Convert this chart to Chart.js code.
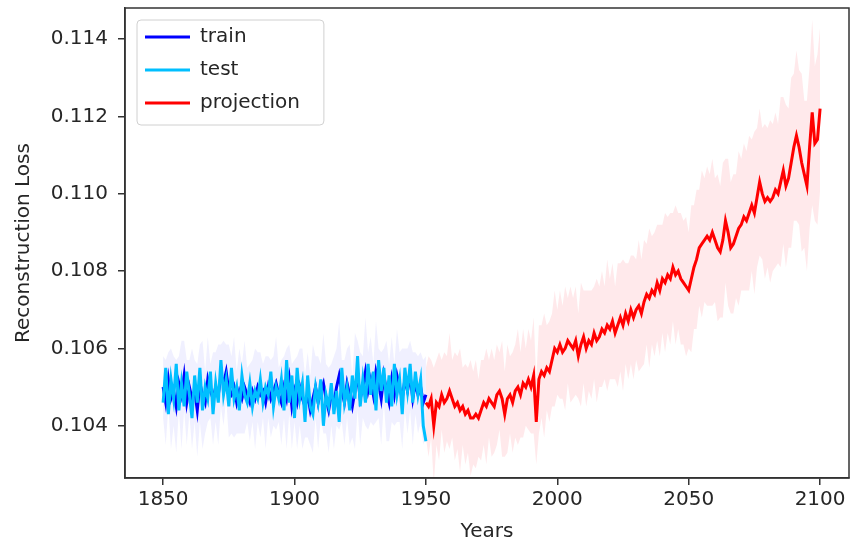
<!DOCTYPE html>
<html>
<head>
<meta charset="utf-8">
<script src="https://cdn.jsdelivr.net/npm/chart.js@4.4.1/dist/chart.umd.min.js"></script>
<style>
  html, body { margin: 0; padding: 0; background: #fff; }
  #chart { display: block; }
</style>
</head>
<body>
<canvas id="chart" width="852" height="544"></canvas>
<script>
// years of the first value in each series
const histStart = 1850
const projStart = 1950

const trainLoss = [
	0.1050, 0.1046, 0.1052, 0.1047, 0.1049, 0.1045, 0.1051, 0.1048, 0.1053, 0.1046,
	0.1050, 0.1047, 0.1049, 0.1044, 0.1051, 0.1048, 0.1046, 0.1052, 0.1049, 0.1047,
	0.1050, 0.1048, 0.1053, 0.1051, 0.1054, 0.1049, 0.1048, 0.1050, 0.1046, 0.1049,
	0.1047, 0.1050, 0.1048, 0.1046, 0.1049, 0.1047, 0.1050, 0.1048, 0.1049, 0.1046,
	0.1050, 0.1047, 0.1049, 0.1051, 0.1048, 0.1046, 0.1050, 0.1047, 0.1052, 0.1045,
	0.1049, 0.1046, 0.1050, 0.1047, 0.1045, 0.1048, 0.1044, 0.1047, 0.1050, 0.1046,
	0.1049, 0.1051, 0.1047, 0.1044, 0.1048, 0.1046, 0.1050, 0.1053, 0.1049, 0.1046,
	0.1051, 0.1048, 0.1045, 0.1049, 0.1053, 0.1047, 0.1050, 0.1054, 0.1049, 0.1052,
	0.1048, 0.1054, 0.1051, 0.1047, 0.1053, 0.1049, 0.1046, 0.1052, 0.1048, 0.1053,
	0.1050, 0.1047, 0.1052, 0.1049, 0.1053, 0.1047, 0.1051, 0.1048, 0.1050, 0.1046,
	0.1048
]

const testLoss = [
	0.1046, 0.1055, 0.1043, 0.1052, 0.1047, 0.1056, 0.1044, 0.1051, 0.1045, 0.1054,
	0.1048, 0.1042, 0.1053, 0.1046, 0.1055, 0.1044, 0.1050, 0.1047, 0.1054, 0.1043,
	0.1051, 0.1046, 0.1057, 0.1048, 0.1052, 0.1045, 0.1055, 0.1047, 0.1050, 0.1044,
	0.1053, 0.1048, 0.1046, 0.1051, 0.1045, 0.1049, 0.1047, 0.1052, 0.1046, 0.1050,
	0.1048, 0.1054, 0.1045, 0.1050, 0.1047, 0.1052, 0.1044, 0.1057, 0.1046, 0.1053,
	0.1042, 0.1055, 0.1047, 0.1051, 0.1041, 0.1053, 0.1045, 0.1043, 0.1050, 0.1046,
	0.1052, 0.1040, 0.1048, 0.1045, 0.1051, 0.1043, 0.1049, 0.1041, 0.1055, 0.1046,
	0.1050, 0.1044, 0.1053, 0.1047, 0.1058, 0.1045, 0.1052, 0.1046, 0.1056, 0.1048,
	0.1054, 0.1044, 0.1057, 0.1049, 0.1055, 0.1046, 0.1053, 0.1045, 0.1056, 0.1048,
	0.1052, 0.1043, 0.1055, 0.1049, 0.1056, 0.1046, 0.1054, 0.1048, 0.1052, 0.1040,
	0.1036
]

const projLoss = [
	0.1046, 0.1045, 0.1047, 0.1040, 0.1046, 0.1045, 0.1048, 0.1046, 0.1047, 0.1049,
	0.1047, 0.1045, 0.1046, 0.1044, 0.1045, 0.1043, 0.1044, 0.1042, 0.1042, 0.1043,
	0.1042, 0.1044, 0.1046, 0.1045, 0.1047, 0.1046, 0.1045, 0.1048, 0.1049, 0.1047,
	0.1043, 0.1047, 0.1048, 0.1046, 0.1049, 0.1050, 0.1048, 0.1051, 0.1050, 0.1052,
	0.1050, 0.1053, 0.1041, 0.1052, 0.1054, 0.1053, 0.1055, 0.1054, 0.1057, 0.1060,
	0.1059, 0.1061, 0.1059, 0.1060, 0.1062, 0.1061, 0.1060, 0.1062, 0.1058, 0.1061,
	0.1063, 0.1060, 0.1062, 0.1061, 0.1064, 0.1062, 0.1063, 0.1065, 0.1064, 0.1066,
	0.1065, 0.1067, 0.1064, 0.1066, 0.1068, 0.1066, 0.1069, 0.1067, 0.1070, 0.1068,
	0.1070, 0.1071, 0.1069, 0.1072, 0.1074, 0.1073, 0.1075, 0.1074, 0.1077, 0.1075,
	0.1078, 0.1077, 0.1079, 0.1078, 0.1081, 0.1079, 0.1080, 0.1078, 0.1077, 0.1076,
	0.1075, 0.1078, 0.1081, 0.1083, 0.1086, 0.1087, 0.1088, 0.1089, 0.1088, 0.1090,
	0.1088, 0.1086, 0.1085, 0.1088, 0.1093, 0.1090, 0.1086, 0.1087, 0.1089, 0.1091,
	0.1092, 0.1094, 0.1093, 0.1095, 0.1097, 0.1095, 0.1099, 0.1103, 0.1100, 0.1098,
	0.1099, 0.1098, 0.1099, 0.1101, 0.1100, 0.1103, 0.1106, 0.1102, 0.1104, 0.1108,
	0.1112, 0.1115, 0.1112, 0.1108, 0.1105, 0.1102, 0.1112, 0.1121, 0.1113, 0.1114,
	0.1122
]

// half width of the shaded bands
const histSpread = [
	0.0008, 0.0011, 0.0007, 0.0013, 0.0009, 0.0012, 0.0007, 0.0014, 0.0009, 0.0011,
	0.0007, 0.0013, 0.0008, 0.0012, 0.0010, 0.0014, 0.0008, 0.0011, 0.0007, 0.0012,
	0.0009, 0.0013, 0.0008, 0.0011, 0.0007, 0.0012, 0.0010, 0.0013, 0.0008, 0.0011,
	0.0009, 0.0012, 0.0007, 0.0010, 0.0008, 0.0013, 0.0009, 0.0011, 0.0007, 0.0012,
	0.0008, 0.0010, 0.0009, 0.0012, 0.0007, 0.0011, 0.0008, 0.0013, 0.0009, 0.0011,
	0.0008, 0.0012, 0.0010, 0.0013, 0.0008, 0.0011, 0.0009, 0.0014, 0.0008, 0.0012,
	0.0007, 0.0013, 0.0009, 0.0011, 0.0008, 0.0012, 0.0010, 0.0014, 0.0008, 0.0011,
	0.0009, 0.0013, 0.0008, 0.0015, 0.0009, 0.0012, 0.0008, 0.0014, 0.0010, 0.0011,
	0.0008, 0.0013, 0.0009, 0.0012, 0.0007, 0.0013, 0.0010, 0.0011, 0.0008, 0.0012,
	0.0009, 0.0013, 0.0008, 0.0011, 0.0009, 0.0012, 0.0008, 0.0010, 0.0009, 0.0011,
	0.0010
]

const projSpread = [
	0.0009, 0.0013, 0.0010, 0.0015, 0.0011, 0.0014, 0.0009, 0.0013, 0.0011, 0.0015,
	0.0010, 0.0014, 0.0012, 0.0016, 0.0010, 0.0013, 0.0011, 0.0015, 0.0012, 0.0014,
	0.0010, 0.0013, 0.0011, 0.0015, 0.0010, 0.0014, 0.0012, 0.0013, 0.0010, 0.0015,
	0.0011, 0.0014, 0.0010, 0.0013, 0.0012, 0.0015, 0.0011, 0.0014, 0.0010, 0.0013,
	0.0012, 0.0015, 0.0011, 0.0014, 0.0012, 0.0016, 0.0011, 0.0013, 0.0012, 0.0015,
	0.0011, 0.0014, 0.0012, 0.0016, 0.0011, 0.0015, 0.0013, 0.0014, 0.0011, 0.0016,
	0.0012, 0.0015, 0.0013, 0.0014, 0.0012, 0.0016, 0.0013, 0.0015, 0.0012, 0.0017,
	0.0013, 0.0015, 0.0012, 0.0016, 0.0014, 0.0017, 0.0013, 0.0015, 0.0014, 0.0016,
	0.0013, 0.0017, 0.0014, 0.0016, 0.0013, 0.0018, 0.0014, 0.0016, 0.0015, 0.0017,
	0.0014, 0.0018, 0.0015, 0.0017, 0.0014, 0.0018, 0.0015, 0.0017, 0.0016, 0.0018,
	0.0015, 0.0019, 0.0016, 0.0018, 0.0015, 0.0019, 0.0016, 0.0018, 0.0017, 0.0019,
	0.0016, 0.0019, 0.0017, 0.0020, 0.0016, 0.0019, 0.0017, 0.0018, 0.0016, 0.0020,
	0.0017, 0.0019, 0.0018, 0.0020, 0.0017, 0.0021, 0.0018, 0.0019, 0.0017, 0.0020,
	0.0018, 0.0021, 0.0019, 0.0020, 0.0018, 0.0022, 0.0019, 0.0021, 0.0018, 0.0022,
	0.0019, 0.0022, 0.0020, 0.0023, 0.0019, 0.0022, 0.0021, 0.0024, 0.0020, 0.0022,
	0.0021
]

const xTicks = [1850, 1900, 1950, 2000, 2050, 2100]
const yTicks = [0.104, 0.106, 0.108, 0.110, 0.112, 0.114]

const textColor = '#262626'
const axisColor = '#333333'

function toPoints(start, values) {
	return values.map((v, i) => ({ x: start + i, y: v }))
}

function bandEdge(start, values, spread, sign) {
	return values.map((v, i) => ({ x: start + i, y: v + sign * spread[i] }))
}

function lineSet(label, data, color, order) {
	return {
		label: label,
		data: data,
		borderColor: color,
		backgroundColor: color,
		borderWidth: 3,
		pointRadius: 0,
		tension: 0,
		fill: false,
		order: order,
	}
}

function bandSet(data, fill, color) {
	return {
		label: '',
		data: data,
		borderColor: 'transparent',
		backgroundColor: color,
		borderWidth: 0,
		pointRadius: 0,
		tension: 0,
		fill: fill,
		order: 10,
	}
}

// outer frame (top and right sides) + legend frame
const framePlugin = {
	id: 'frame',
	afterLayout(chart) {
		const lg = chart.legend
		lg.left = chart.chartArea.left + 7
		lg.top = chart.chartArea.top + 6
	},
	beforeDraw(chart) {
		const lg = chart.legend
		const ctx = chart.ctx
		const pad = lg.options.labels.padding
		ctx.save()
		ctx.font = '20px "DejaVu Sans"'
		let maxW = 0
		chart.data.datasets.slice(0, 3).forEach(d => {
			maxW = Math.max(maxW, ctx.measureText(d.label).width)
		})
		const x = lg.left + pad - 8
		const y = lg.top + pad - 7
		const w = 45 + 10 + maxW + 32
		const h = 3 * (20 + pad) + 6
		ctx.beginPath()
		ctx.roundRect(x, y, w, h, 4)
		ctx.fillStyle = 'rgba(255,255,255,0.8)'
		ctx.fill()
		ctx.strokeStyle = '#d0d0d0'
		ctx.lineWidth = 1
		ctx.stroke()
		ctx.restore()
	},
	afterDraw(chart) {
		const a = chart.chartArea
		const ctx = chart.ctx
		ctx.save()
		ctx.strokeStyle = axisColor
		ctx.lineWidth = 1.5
		ctx.strokeRect(a.left, a.top, a.right - a.left, a.bottom - a.top)
		ctx.restore()
	}
}

function chartInit() {
	const chartItem = document.getElementById('chart')

	Chart.defaults.font.family = '"DejaVu Sans", sans-serif'
	Chart.defaults.font.size = 20
	Chart.defaults.color = textColor

	const datasets = [
		lineSet('train', toPoints(histStart, trainLoss), '#0000ff', 1),
		lineSet('test', toPoints(histStart, testLoss), '#00bfff', 0),
		lineSet('projection', toPoints(projStart, projLoss), '#ff0000', 2),
		bandSet(bandEdge(histStart, trainLoss, histSpread, 1), false, 'rgba(90,90,255,0.09)'),
		bandSet(bandEdge(histStart, trainLoss, histSpread, -1), '-1', 'rgba(90,90,255,0.09)'),
		bandSet(bandEdge(projStart, projLoss, projSpread, 1), false, 'rgba(255,40,60,0.10)'),
		bandSet(bandEdge(projStart, projLoss, projSpread, -1), '-1', 'rgba(255,40,60,0.10)'),
	]

	new Chart(chartItem, {
		type: 'line',
		data: { datasets: datasets },
		plugins: [framePlugin],
		options: {
			responsive: false,
			devicePixelRatio: 1,
			animation: false,
			layout: { padding: { top: 8, right: 3, left: 0, bottom: 0 } },
			plugins: {
				tooltip: { enabled: false },
				legend: {
					position: 'chartArea',
					align: 'start',
					labels: {
						filter: item => item.datasetIndex < 3,
						sort: (a, b) => a.datasetIndex - b.datasetIndex,
						usePointStyle: true,
						pointStyle: 'line',
						pointStyleWidth: 45,
						padding: 13,
						color: textColor,
						font: { size: 20 },
					}
				}
			},
			scales: {
				x: {
					type: 'linear',
					min: 1835.5,
					max: 2111,
					afterBuildTicks: s => { s.ticks = xTicks.map(v => ({ value: v })) },
					afterFit: s => { s.height = 66; s.paddingLeft = 0; s.paddingRight = 0 },
					ticks: {
						autoSkip: false,
						maxRotation: 0,
						padding: 3,
						callback: v => String(v),
					},
					grid: { drawOnChartArea: false, drawTicks: true, tickLength: 7, color: axisColor, lineWidth: 1.5 },
					border: { display: true, color: axisColor, width: 1.5 },
					title: { display: true, text: 'Years', padding: { top: 4, bottom: 0 }, font: { size: 20 } },
				},
				y: {
					type: 'linear',
					min: 0.10265,
					max: 0.1148,
					afterBuildTicks: s => { s.ticks = yTicks.map(v => ({ value: v })) },
					afterFit: s => { s.width = 125; s.paddingTop = 0; s.paddingBottom = 0 },
					ticks: {
						autoSkip: false,
						padding: 10,
						callback: v => v.toFixed(3),
					},
					grid: { drawOnChartArea: false, drawTicks: true, tickLength: 7, color: axisColor, lineWidth: 1.5 },
					border: { display: true, color: axisColor, width: 1.5 },
					title: { display: true, text: 'Reconstruction Loss', padding: { top: 12, bottom: 0 }, font: { size: 20 } },
				}
			}
		}
	})
}

window.addEventListener('load', chartInit)
</script>
</body>
</html>
